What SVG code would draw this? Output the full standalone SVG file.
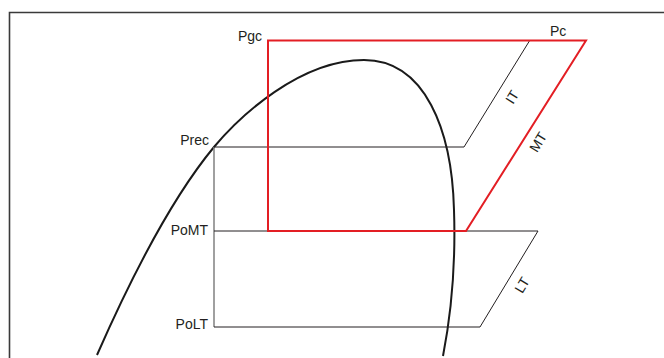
<svg xmlns="http://www.w3.org/2000/svg" width="664" height="358" viewBox="0 0 664 358">
<style>
.lbl{font-family:"Liberation Sans",Arial,sans-serif;font-size:14px;fill:#231f20}
.thin{fill:none;stroke:#231f20;stroke-width:1}
.red{fill:none;stroke:#e31e24;stroke-width:2;stroke-linejoin:miter}
</style>
<rect width="664" height="358" fill="#fff"/>
<path d="M9.5,358 V12.5 H664" fill="none" stroke="#3a3a3a" stroke-width="1.6"/>
<g id="connectors">
<path id="saturation-curve" d="M97,355 C130,280 170,200 214,147 C240,116 300,60 364,60 C425,60 452,130 454,210 C456,270 450,320 443,356" fill="none" stroke="#1a1a1a" stroke-width="2"/>
<line x1="214" y1="147" x2="214" y2="327" stroke="#808080" stroke-width="1.5"/>
<path class="thin" d="M214,147 H464 L530,40"/>
<path class="thin" d="M214,231 H538 L480,327 H214"/>
<path class="red" d="M268,232 V40.5 H586 L466,231 H268"/>
</g>
<g id="Pgc"><text class="lbl" x="262" y="41" text-anchor="end">Pgc</text></g>
<g id="Pc"><text class="lbl" x="550" y="36">Pc</text></g>
<g id="Prec"><text class="lbl" x="209" y="145" text-anchor="end">Prec</text></g>
<g id="PoMT"><text class="lbl" x="208" y="235" text-anchor="end">PoMT</text></g>
<g id="PoLT"><text class="lbl" x="208" y="329" text-anchor="end">PoLT</text></g>
<g id="IT"><text class="lbl" x="0" y="0" text-anchor="middle" transform="translate(512,97) rotate(-58) translate(0,5)">IT</text></g>
<g id="MT"><text class="lbl" x="0" y="0" text-anchor="middle" transform="translate(538,142) rotate(-58) translate(0,5)">MT</text></g>
<g id="LT"><text class="lbl" x="0" y="0" text-anchor="middle" transform="translate(522,285) rotate(-59) translate(0,5)">LT</text></g>
</svg>
